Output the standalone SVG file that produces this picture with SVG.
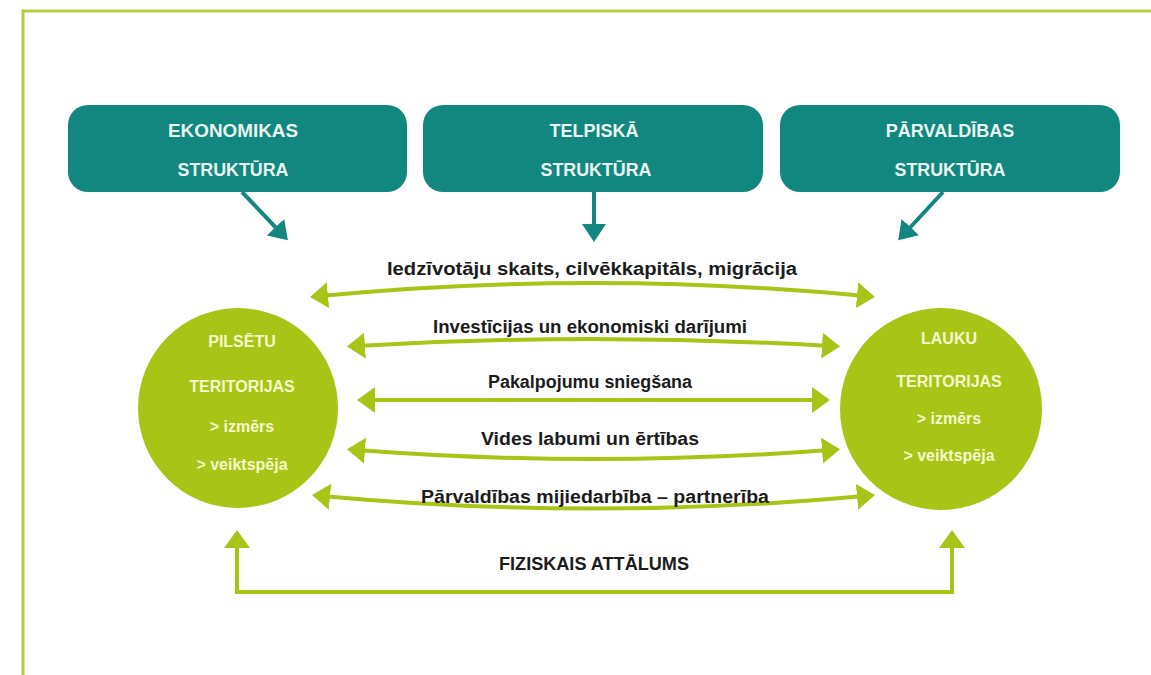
<svg xmlns="http://www.w3.org/2000/svg" width="1151" height="675" viewBox="0 0 1151 675">
  <style>
    .box { fill: #12877f; }
    .boxtxt { font-family: "Liberation Sans", Arial, sans-serif; font-weight: bold; font-size: 18px; fill: #e9f5f0; text-anchor: middle; }
    .circ { fill: #a8c416; }
    .circtxt { font-family: "Liberation Sans", Arial, sans-serif; font-weight: bold; font-size: 16px; fill: #f4f8cc; text-anchor: middle; }
    .lbl { font-family: "Liberation Sans", Arial, sans-serif; font-weight: bold; font-size: 18px; fill: #1c1c1c; text-anchor: middle; }
    .garrow { fill: none; stroke: #a8c416; stroke-width: 4; marker-start: url(#gh); marker-end: url(#gh); }
    .tarrow { fill: none; stroke: #12877f; stroke-width: 4; marker-end: url(#th); }
  </style>
  <defs>
    <marker id="gh" viewBox="0 0 18 26" refX="8" refY="13" markerWidth="18" markerHeight="26" markerUnits="userSpaceOnUse" orient="auto-start-reverse">
      <path d="M0,0 L18,13 L0,26 z" fill="#a8c416"/>
    </marker>
    <marker id="th" viewBox="0 0 18 24" refX="8" refY="12" markerWidth="18" markerHeight="24" markerUnits="userSpaceOnUse" orient="auto">
      <path d="M0,0 L18,12 L0,24 z" fill="#12877f"/>
    </marker>
  </defs>
  <rect x="0" y="0" width="1151" height="675" fill="#ffffff"/>
  <polyline points="23,675 23,11 1151,11" fill="none" stroke="#b3cd3c" stroke-width="3"/>

  <g id="node-ekonomikas">
    <rect class="box" x="68" y="105" width="339" height="87" rx="20"/>
    <text class="boxtxt" x="233" y="137" textLength="130" lengthAdjust="spacingAndGlyphs">EKONOMIKAS</text>
    <text class="boxtxt" x="233" y="176" textLength="111" lengthAdjust="spacingAndGlyphs">STRUKTŪRA</text>
  </g>
  <g id="node-telpiska">
    <rect class="box" x="423" y="105" width="340" height="87" rx="20"/>
    <text class="boxtxt" x="594" y="137">TELPISKĀ</text>
    <text class="boxtxt" x="596" y="176" textLength="111" lengthAdjust="spacingAndGlyphs">STRUKTŪRA</text>
  </g>
  <g id="node-parvaldibas">
    <rect class="box" x="780" y="105" width="340" height="87" rx="20"/>
    <text class="boxtxt" x="950" y="137">PĀRVALDĪBAS</text>
    <text class="boxtxt" x="950" y="176" textLength="111" lengthAdjust="spacingAndGlyphs">STRUKTŪRA</text>
  </g>

  <g id="node-pilsetu">
    <circle class="circ" cx="238" cy="408" r="100"/>
    <text class="circtxt" x="242" y="347">PILSĒTU</text>
    <text class="circtxt" x="242" y="392">TERITORIJAS</text>
    <text class="circtxt" x="242" y="432">&gt; izmērs</text>
    <text class="circtxt" x="242" y="470">&gt; veiktspēja</text>
  </g>
  <g id="node-lauku">
    <circle class="circ" cx="941" cy="409" r="101"/>
    <text class="circtxt" x="949" y="344">LAUKU</text>
    <text class="circtxt" x="949" y="387">TERITORIJAS</text>
    <text class="circtxt" x="949" y="424">&gt; izmērs</text>
    <text class="circtxt" x="949" y="461">&gt; veiktspēja</text>
  </g>

  <g id="connectors">
    <path class="tarrow" d="M242,192 L281,233"/>
    <path class="tarrow" d="M594,192 L594,232"/>
    <path class="tarrow" d="M943,192 L905,233"/>

    <path class="garrow" d="M320,296 Q592,270 865,296"/>
    <path class="garrow" d="M357,346 Q593,332 830,346"/>
    <path class="garrow" d="M367,400 L820,400"/>
    <path class="garrow" d="M357,450 Q593,468 830,450"/>
    <path class="garrow" d="M322,496 Q593,521 865,496"/>
    <path class="garrow" d="M237,540 L237,592 L952,592 L952,540"/>

    <text class="lbl" x="592" y="275" textLength="410" lengthAdjust="spacingAndGlyphs">Iedzīvotāju skaits, cilvēkkapitāls, migrācija</text>
    <text class="lbl" x="590" y="333" textLength="314" lengthAdjust="spacingAndGlyphs">Investīcijas un ekonomiski darījumi</text>
    <text class="lbl" x="590" y="388" textLength="204" lengthAdjust="spacingAndGlyphs">Pakalpojumu sniegšana</text>
    <text class="lbl" x="590" y="445" textLength="218" lengthAdjust="spacingAndGlyphs">Vides labumi un ērtības</text>
    <text class="lbl" x="595" y="503" textLength="348" lengthAdjust="spacingAndGlyphs">Pārvaldības mijiedarbība – partnerība</text>
    <text class="lbl" x="594" y="570" textLength="190" lengthAdjust="spacingAndGlyphs">FIZISKAIS ATTĀLUMS</text>
  </g>
</svg>
